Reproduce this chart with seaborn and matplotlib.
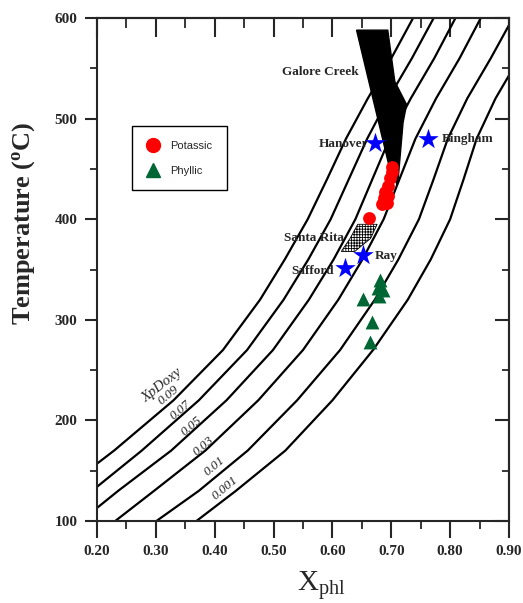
import matplotlib
matplotlib.use("Agg")
import matplotlib.pyplot as plt
import seaborn as sns
import pandas as pd
from matplotlib.lines import Line2D
from matplotlib.patches import Polygon

# ---------------- data ----------------
curve_labels = ["0.09", "0.07", "0.05", "0.03", "0.01", "0.001"]
c09_x = [0.200, 0.229, 0.330, 0.414, 0.477, 0.519, 0.558, 0.591, 0.623, 0.660, 0.700, 0.737]
c09_t = [157, 170, 220, 270, 320, 360, 400, 440, 480, 520, 560, 600]
c07_x = [0.200, 0.276, 0.373, 0.455, 0.517, 0.559, 0.597, 0.628, 0.659, 0.695, 0.735, 0.772]
c07_t = [134, 170, 220, 270, 320, 360, 400, 440, 480, 520, 560, 600]
c05_x = [0.200, 0.236, 0.326, 0.420, 0.499, 0.560, 0.602, 0.639, 0.668, 0.697, 0.733, 0.773, 0.809]
c05_t = [113, 130, 170, 220, 270, 320, 360, 400, 440, 480, 520, 560, 600]
c03_x = [0.231, 0.297, 0.384, 0.474, 0.550, 0.610, 0.651, 0.687, 0.714, 0.741, 0.776, 0.816, 0.852]
c03_t = [100, 130, 170, 220, 270, 320, 360, 400, 440, 480, 520, 560, 600]
c01_x = [0.301, 0.373, 0.456, 0.540, 0.613, 0.672, 0.712, 0.747, 0.772, 0.796, 0.829, 0.869, 0.900]
c01_t = [100, 130, 170, 220, 270, 320, 360, 400, 440, 480, 520, 560, 593]
c001_x = [0.369, 0.436, 0.520, 0.600, 0.669, 0.728, 0.767, 0.800, 0.823, 0.845, 0.877, 0.900]
c001_t = [100, 130, 170, 220, 270, 320, 360, 400, 440, 480, 520, 543]

potassic_x = [0.702, 0.701, 0.698, 0.694, 0.689, 0.688, 0.684, 0.694, 0.693, 0.662]
potassic_t = [452, 447, 441, 433, 427, 421, 415, 423, 416, 401]

phyllic_x = [0.681, 0.677, 0.686, 0.679, 0.652, 0.667, 0.663]
phyllic_t = [340, 332, 330, 324, 321, 298, 278]

deposit_names = ["Hanover", "Bingham", "Ray", "Safford"]
deposit_x = [0.672, 0.763, 0.652, 0.621]
deposit_t = [476, 480, 364, 352]

galore_x = [0.641, 0.694, 0.706, 0.726, 0.720, 0.712, 0.710, 0.695]
galore_t = [588, 588, 537, 514, 496, 442, 434, 456]

santarita_x = [0.643, 0.676, 0.665, 0.638, 0.615, 0.630]
santarita_t = [395, 395, 381, 368, 368, 381]

x_ticks = [0.20, 0.30, 0.40, 0.50, 0.60, 0.70, 0.80, 0.90]
x_minor = [0.25, 0.35, 0.45, 0.55, 0.65, 0.75, 0.85]
y_ticks = [100, 200, 300, 400, 500, 600]
y_minor = [150, 250, 350, 450, 550]

# ---------------- style ----------------
sns.set_style("ticks")
plt.rcParams["font.family"] = ["Liberation Serif", "DejaVu Serif"]
plt.rcParams["mathtext.fontset"] = "custom"
plt.rcParams["mathtext.rm"] = "Liberation Serif"
plt.rcParams["mathtext.bf"] = "Liberation Serif:bold"
plt.rcParams["hatch.linewidth"] = 0.6

fig = plt.figure(figsize=(5.23, 6.03), dpi=100)
ax = fig.add_axes([0.1855, 0.136, 0.7877, 0.834])

curves = [(c09_x, c09_t), (c07_x, c07_t), (c05_x, c05_t),
          (c03_x, c03_t), (c01_x, c01_t), (c001_x, c001_t)]
for (cx, ct), lab in zip(curves, curve_labels):
    df = pd.DataFrame({"x": cx, "T": ct})
    sns.lineplot(data=df, x="x", y="T", sort=False, estimator=None,
                 color="black", linewidth=1.6, ax=ax)

# Galore Creek field
ax.add_patch(Polygon(list(zip(galore_x, galore_t)), closed=True,
                     facecolor="black", edgecolor="black", zorder=3))
# Santa Rita field
ax.add_patch(Polygon(list(zip(santarita_x, santarita_t)), closed=True,
                     facecolor="white", edgecolor="black", hatch="++++++",
                     linewidth=0.6, zorder=3))

pot = pd.DataFrame({"x": potassic_x, "T": potassic_t})
sns.scatterplot(data=pot, x="x", y="T", marker="o", color="#ff0000",
                s=85, linewidth=0, ax=ax, zorder=4)
phy = pd.DataFrame({"x": phyllic_x, "T": phyllic_t})
sns.scatterplot(data=phy, x="x", y="T", marker="^", color="#006633",
                s=100, linewidth=0, ax=ax, zorder=4)
dep = pd.DataFrame({"x": deposit_x, "T": deposit_t})
sns.scatterplot(data=dep, x="x", y="T", marker="*", color="#0000ff",
                s=240, linewidth=0, ax=ax, zorder=5)

lab_kw = dict(fontsize=9.5, fontweight="bold", va="center", zorder=6)
ax.text(0.645, 546, "Galore Creek", ha="right", **lab_kw)
ax.text(0.661, 475, "Hanover", ha="right", **lab_kw)
ax.text(0.785, 480, "Bingham", ha="left", **lab_kw)
ax.text(0.619, 381, "Santa Rita", ha="right", **lab_kw)
ax.text(0.672, 363, "Ray", ha="left", **lab_kw)
ax.text(0.602, 349, "Safford", ha="right", **lab_kw)

# curve labels
lbl_x = [0.321, 0.341, 0.361, 0.381, 0.400, 0.417]
lbl_t = [225, 210, 194, 174, 154, 133]
for lx, lt, s in zip(lbl_x, lbl_t, curve_labels):
    ax.text(lx, lt, s, fontsize=9.5, fontstyle="italic", rotation=40,
            ha="center", va="center")
ax.text(0.310, 235, "XpDoxy", fontsize=10.5, fontstyle="italic", rotation=38,
        ha="center", va="center")

ax.set_xlim(0.20, 0.90)
ax.set_ylim(100, 600)
ax.set_xticks(x_ticks)
ax.set_xticklabels([f"{v:.2f}" for v in x_ticks])
ax.set_yticks(y_ticks)
ax.set_xticks(x_minor, minor=True)
ax.set_yticks(y_minor, minor=True)
ax.tick_params(axis="x", which="major", direction="out", length=12, width=1.5,
               labelsize=11, pad=5)
ax.tick_params(axis="x", which="minor", direction="out", length=6, width=1.3)
ax.tick_params(axis="y", which="major", direction="out", length=9, width=1.5,
               labelsize=11, pad=5)
ax.tick_params(axis="y", which="minor", direction="out", length=5, width=1.3)
for lbl in ax.get_xticklabels() + ax.get_yticklabels():
    lbl.set_fontweight("bold")

top = ax.secondary_xaxis("top")
top.set_xticks(x_ticks)
top.set_xticks(x_minor, minor=True)
top.tick_params(which="major", direction="in", length=14, width=1.5, labeltop=False)
top.tick_params(which="minor", direction="in", length=7, width=1.3)
right = ax.secondary_yaxis("right")
right.set_yticks(y_ticks)
right.set_yticks(y_minor, minor=True)
right.tick_params(which="major", direction="in", length=10, width=1.5, labelright=False)
right.tick_params(which="minor", direction="in", length=5, width=1.3)
for sp in list(ax.spines.values()) + list(top.spines.values()) + list(right.spines.values()):
    sp.set_linewidth(1.5)

ax.set_xlabel(r"X$_{\mathregular{phl}}$", fontsize=21)
ax.xaxis.set_label_coords(0.546, -0.097)
ax.set_ylabel(r"Temperature ($\mathbf{^{o}}$C)", fontsize=19, fontweight="bold")
ax.yaxis.set_label_coords(-0.146, 0.592)

handles = [Line2D([], [], marker="o", color="#ff0000", linestyle="none", markersize=10, label="Potassic"),
           Line2D([], [], marker="^", color="#006633", linestyle="none", markersize=10, label="Phyllic")]
leg = ax.legend(handles=handles, loc="upper left", bbox_to_anchor=(0.084, 0.785),
                borderaxespad=0, frameon=True, fancybox=False, framealpha=1,
                edgecolor="black", prop={"family": "Liberation Sans", "size": 8},
                handletextpad=1.0, borderpad=1.3, labelspacing=1.35, handlelength=1.2)
leg.get_frame().set_linewidth(1.0)

fig.savefig("out.png", dpi=100)
